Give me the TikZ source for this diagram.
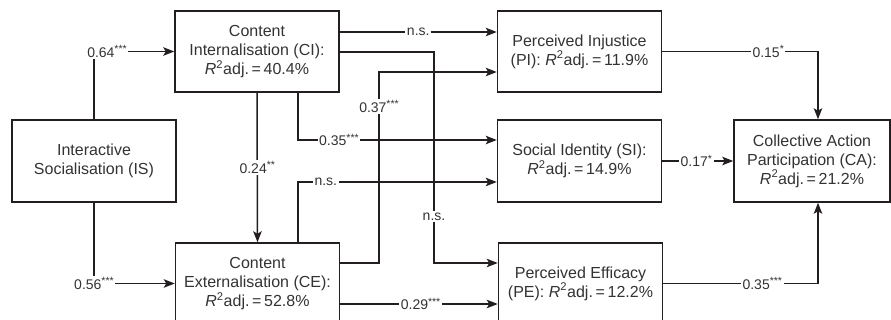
\documentclass[tikz,border=0pt]{standalone}
\usepackage{fontspec}
\setmainfont{Liberation Sans}
\usetikzlibrary{arrows.meta}
\definecolor{ln}{HTML}{231F20}
\definecolor{tx}{HTML}{333333}
\newcommand{\rsq}{\textit{R}\textsuperscript{2}adj.\,=\,}
\newcommand{\stars}[1]{\raisebox{4.5pt}{\fontsize{10.5}{10}\selectfont #1}}
\begin{document}
\begin{tikzpicture}[x=1pt,y=-1pt,
 box/.style={draw=ln, line width=1.5pt, fill=white, align=center, text=tx,
   font=\fontsize{16}{19}\selectfont, minimum width=164pt, minimum height=81pt, inner sep=0pt},
 arr/.style={draw=ln, line width=1.5pt, -{Stealth[length=11pt,width=8.5pt,inset=2.5pt]}},
 lab/.style={fill=white, text=tx, font=\fontsize{14}{16}\selectfont, inner sep=1.5pt}]
\useasboundingbox (0,0) rectangle (891,320);
\clip (0,0) rectangle (891,320);

\node[box] (CI) at (257,51.5) {Content\\Internalisation (CI):\\\rsq 40.4\%};
\node[box, minimum height=82pt] (IS) at (94,161) {Interactive\\Socialisation (IS)};
\node[box] (CE) at (257.5,283.5) {Content\\Externalisation (CE):\\\rsq 52.8\%};
\node[box] (PI) at (579.5,51.5) {Perceived Injustice\\(PI): \rsq 11.9\%};
\node[box, minimum height=82pt] (SI) at (579.5,161) {Social Identity (SI):\\\rsq 14.9\%};
\node[box] (PE) at (580.5,283.5) {Perceived Efficacy\\(PE): \rsq 12.2\%};
\node[box, minimum width=156pt, minimum height=82pt] (CA) at (812,161) {Collective Action\\Participation (CA):\\\rsq 21.2\%};

% IS -> CI, IS -> CE
\draw[arr] (IS.north) |- node[lab, pos=0.5, anchor=west, xshift=-9pt] {0.64\stars{***}} (CI.west);
\draw[arr] (IS.south) |- node[lab, pos=0.5] {0.56\stars{***}} (CE.west);

% CI -> CE
\draw[arr] (CI.south) -- node[lab, pos=0.5] {0.24\stars{**}} (CE.north);

% CI -> PI
\draw[arr] (CI.east |- 0,32) -- node[lab, pos=0.5] {n.s.} (PI.west |- 0,32);
% CI -> PE
\draw[arr] (CI.east |- 0,52) -- (434,52) -- node[lab, pos=0.78] {n.s.} (434,263) -- (PE.west |- 0,263);
% CI -> SI
\draw[arr] (CI.south -| 298,0) |- node[lab, pos=0.603] {0.35\stars{***}} (SI.west |- 0,140);

% CE -> SI
\draw[arr] (CE.north -| 298,0) |- node[lab, pos=0.57] {n.s.} (SI.west |- 0,182);
% CE -> PI
\draw[arr] (CE.east |- 0,263) -- (379,263) -- node[lab, pos=0.82] {0.37\stars{***}} (379,72) -- (PI.west |- 0,72);
% CE -> PE
\draw[arr] (CE.east |- 0,304) -- node[lab, pos=0.51] {0.29\stars{***}} (PE.west |- 0,304);

% mediators -> CA
\draw[arr] (PI.east) -| node[lab, pos=0.34] {0.15\stars{*}} (CA.north -| 818,0);
\draw[arr] (SI.east) -- node[lab, pos=0.48] {0.17\stars{*}} (CA.west);
\draw[arr] (PE.east) -| node[lab, pos=0.32] {0.35\stars{***}} (CA.south -| 818,0);
\end{tikzpicture}
\end{document}
